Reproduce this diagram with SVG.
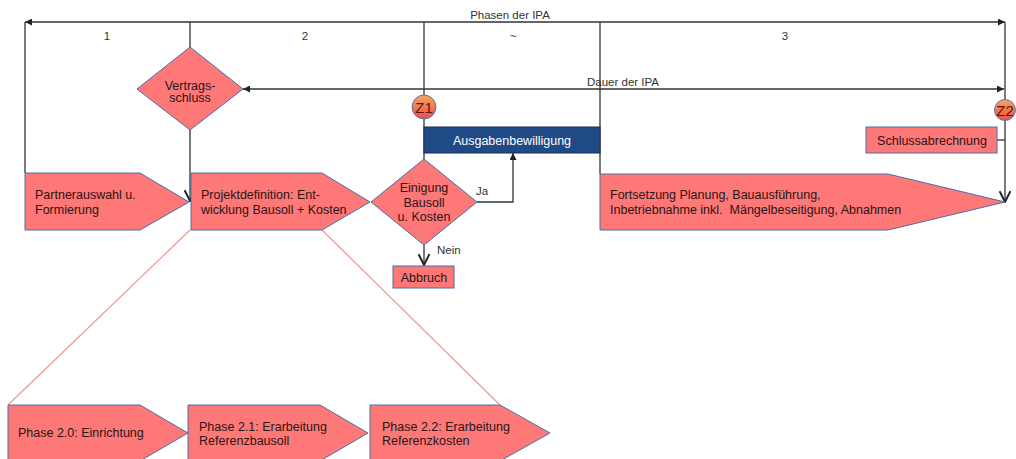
<svg xmlns="http://www.w3.org/2000/svg" width="1016" height="459" viewBox="0 0 1016 459">
<style>
.ln{fill:none;stroke:#333;stroke-width:1.3}
.pk{fill:none;stroke:#F39595;stroke-width:1.2}
.sh{fill:#FF7878;stroke:#4A6FA5;stroke-width:1}
.t{font-family:"Liberation Sans",Arial,sans-serif;font-size:12.5px;fill:#2A1515}
.lb{font-family:"Liberation Sans",Arial,sans-serif;font-size:11.5px;fill:#333}
.c{text-anchor:middle}
.w{fill:#FFFFFF}
.z{font-family:"Liberation Sans",Arial,sans-serif;font-size:15px;fill:#6B1010;text-anchor:middle}
</style>
<defs>
<marker id="tri" viewBox="0 0 10 10" refX="10" refY="5" markerWidth="7" markerHeight="7" markerUnits="userSpaceOnUse" orient="auto-start-reverse">
<path d="M0,0 L10,5 L0,10 z" fill="#222"/>
</marker>
<marker id="vee" viewBox="0 0 12 12" refX="11" refY="6" markerWidth="13" markerHeight="13" markerUnits="userSpaceOnUse" orient="auto">
<path d="M1,1 L11,6 L1,11" fill="none" stroke="#222" stroke-width="1.8"/>
</marker>
<linearGradient id="zg" x1="0" y1="0" x2="0" y2="1">
<stop offset="0" stop-color="#F6A55A"/>
<stop offset="1" stop-color="#E8504C"/>
</linearGradient>
</defs>

<g id="connectors">
<line class="pk" x1="190" y1="230" x2="8" y2="405"/>
<line class="pk" x1="322" y1="230" x2="500" y2="405"/>
<line class="ln" x1="512" y1="22" x2="25" y2="22" marker-end="url(#tri)"/>
<line class="ln" x1="512" y1="22" x2="1005" y2="22" marker-end="url(#tri)"/>
<line class="ln" x1="25" y1="22" x2="25" y2="173"/>
<line class="ln" x1="190" y1="22" x2="190" y2="47"/>
<line class="ln" x1="424" y1="22" x2="424" y2="159"/>
<line class="ln" x1="600" y1="22" x2="600" y2="174"/>
<line class="ln" x1="1005" y1="22" x2="1005" y2="99"/>
<line class="ln" x1="600" y1="89" x2="243" y2="89" marker-end="url(#tri)"/>
<line class="ln" x1="600" y1="89" x2="1004" y2="89" marker-end="url(#tri)"/>
<line class="ln" x1="190" y1="130" x2="190" y2="201" marker-end="url(#vee)"/>
<line class="ln" x1="1005" y1="120" x2="1005" y2="202" marker-end="url(#vee)"/>
<line class="ln" x1="997" y1="140" x2="1005" y2="140"/>
<line class="ln" x1="424" y1="245" x2="424" y2="265" marker-end="url(#vee)"/>
<polyline class="ln" points="477,202 513,202 513,153" marker-end="url(#tri)"/>
<text class="lb" x="510" y="19" text-anchor="middle">Phasen der IPA</text>
<text class="lb" x="107" y="40" text-anchor="middle">1</text>
<text class="lb" x="305" y="40" text-anchor="middle">2</text>
<text class="lb" x="513" y="40" text-anchor="middle">~</text>
<text class="lb" x="785" y="40" text-anchor="middle">3</text>
<text class="lb" x="623" y="86" text-anchor="middle">Dauer der IPA</text>
<text class="lb" x="476" y="195">Ja</text>
<text class="lb" x="437" y="254">Nein</text>
</g>

<g id="vertragsschluss">
<polygon class="sh" points="190,47 243,89 190,130 137,89"/>
<text class="t c" x="190" y="90">Vertrags-</text>
<text class="t c" x="190" y="102">schluss</text>
</g>

<g id="z1">
<circle cx="424" cy="107" r="12" fill="url(#zg)" stroke="#5A7AAE" stroke-width="1"/>
<text class="z" x="424" y="112.5">Z1</text>
</g>

<g id="z2">
<circle cx="1005" cy="110" r="10.5" fill="url(#zg)" stroke="#5A7AAE" stroke-width="1"/>
<text class="z" x="1005" y="115.5">Z2</text>
</g>

<g id="ausgabenbewilligung">
<rect x="424" y="127" width="176" height="26" fill="#1F4A85" stroke="#1A2F55" stroke-width="1"/>
<text class="t c w" x="512" y="145">Ausgabenbewilligung</text>
</g>

<g id="schlussabrechnung">
<rect class="sh" x="866" y="127" width="131" height="26"/>
<text class="t c" x="932" y="144.5">Schlussabrechnung</text>
</g>

<g id="partnerauswahl">
<polygon class="sh" points="25,173 140,173 189,202 140,230 25,230"/>
<text class="t" x="35" y="199">Partnerauswahl u.</text>
<text class="t" x="35" y="214">Formierung</text>
</g>

<g id="projektdefinition">
<polygon class="sh" points="191,173 322,173 370,202 322,230 191,230"/>
<text class="t" x="201" y="199">Projektdefinition: Ent-</text>
<text class="t" x="201" y="214">wicklung Bausoll + Kosten</text>
</g>

<g id="einigung">
<polygon class="sh" points="424,159 477,202 424,245 371,202"/>
<text class="t c" x="424" y="192">Einigung</text>
<text class="t c" x="424" y="207">Bausoll</text>
<text class="t c" x="424" y="221">u. Kosten</text>
</g>

<g id="abbruch">
<rect class="sh" x="393" y="266" width="61" height="22"/>
<text class="t c" x="424" y="281.5">Abbruch</text>
</g>

<g id="fortsetzung">
<polygon class="sh" points="600,174 888,174 1005,202 888,230 600,230"/>
<text class="t" x="610" y="199">Fortsetzung Planung, Bauausführung,</text>
<text class="t" x="610" y="214" xml:space="preserve">Inbetriebnahme inkl.  Mängelbeseitigung, Abnahmen</text>
</g>

<g id="phase20">
<polygon class="sh" points="8,405 140,405 188,433 140,461 8,461"/>
<text class="t" x="18" y="437">Phase 2.0: Einrichtung</text>
</g>

<g id="phase21">
<polygon class="sh" points="188,405 320,405 368,433 320,461 188,461"/>
<text class="t" x="199" y="431">Phase 2.1: Erarbeitung</text>
<text class="t" x="199" y="445">Referenzbausoll</text>
</g>

<g id="phase22">
<polygon class="sh" points="370,405 500,405 550,433 500,461 370,461"/>
<text class="t" x="382" y="431">Phase 2.2: Erarbeitung</text>
<text class="t" x="382" y="445">Referenzkosten</text>
</g>
</svg>
